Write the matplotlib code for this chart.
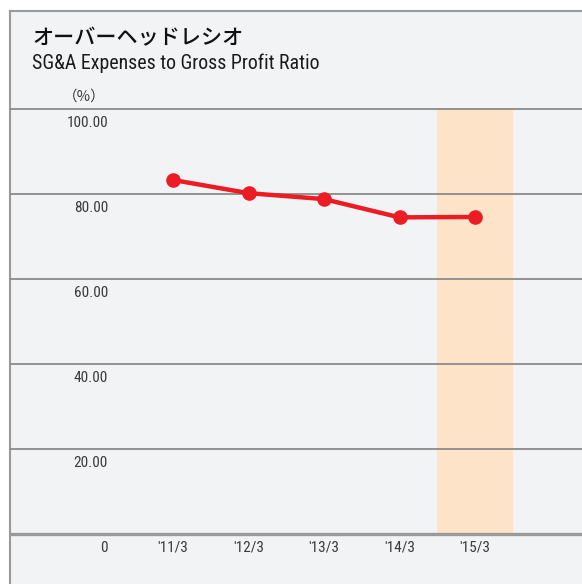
import matplotlib
matplotlib.use("Agg")
import matplotlib.pyplot as plt
from matplotlib.patches import Rectangle
from matplotlib.lines import Line2D

categories = ["'11/3", "'12/3", "'13/3", "'14/3", "'15/3"]
values = [83.3, 80.2, 78.8, 74.5, 74.6]
yticks = [0, 20, 40, 60, 80, 100]
ytick_labels = ["0", "20.00", "40.00", "60.00", "80.00", "100.00"]
highlight_index = 4

W, H = 582, 584
fig = plt.figure(figsize=(W / 100, H / 100), dpi=100)
fig.patch.set_facecolor("white")

bg = "#f2f3f5"
fig.patches.append(Rectangle((10.5 / W, 0), 1, 1 - 10.5 / H, transform=fig.transFigure,
                             facecolor=bg, edgecolor="none", zorder=-10))
fig.lines.append(Line2D([10.5 / W, 10.5 / W], [0, 1 - 10.5 / H], transform=fig.transFigure,
                        color="#9a9a9a", lw=1.5, zorder=-5))
fig.lines.append(Line2D([10.5 / W, 1], [1 - 10.5 / H, 1 - 10.5 / H], transform=fig.transFigure,
                        color="#9a9a9a", lw=1.5, zorder=-5))

left, right = 11, 582
top, bottom = 109, 534
ax = fig.add_axes([left / W, 1 - bottom / H, (right - left) / W, (bottom - top) / H])
ax.set_facecolor("none")
sp = 75.5
x0px = 173
xs = list(range(len(categories)))
ax.set_xlim((left - x0px) / sp, (right - x0px) / sp)
ax.set_ylim(0, 100)
for s in ax.spines.values():
    s.set_visible(False)
ax.set_xticks([])
ax.set_yticks([])

ax.axvspan(highlight_index - 0.5, highlight_index + 0.5, color="#fde4c9", zorder=1, lw=0)

for y in yticks:
    if y == 0:
        ax.axhline(y, color="#9a9a9a", lw=2.4, zorder=2, clip_on=False)
    else:
        ax.axhline(y, color="#8a8a8a", lw=1.3, zorder=2, clip_on=False)

ax.plot(xs, values, color="#ec1c24", lw=3.2, marker="o", markersize=9.5, zorder=4,
        solid_capstyle="round", clip_on=False)

narrow = ["Roboto Condensed", "DejaVu Sans"]
tc = "#3a3a3a"
off = 14 / (bottom - top) * 100
for y, lab in zip(yticks, ytick_labels):
    ax.text((108 - x0px) / sp, y - off, lab, ha="right", va="center", fontsize=11,
            family=narrow, color=tc, clip_on=False)
for x, lab in zip(xs, categories):
    ax.text(x, -off, lab, ha="center", va="center", fontsize=11, family=narrow,
            color=tc, clip_on=False)

fig.text(32 / W, 1 - 38 / H, "オーバーヘッドレシオ", fontsize=15.2, family=["Noto Sans CJK JP", "DejaVu Sans"],
         weight="medium", color="#111111", va="center", ha="left")
fig.text(32 / W, 1 - 63 / H, "SG&A Expenses to Gross Profit Ratio", fontsize=14.3, family=narrow,
         color="#1a1a1a", va="center", ha="left")
fig.text(84 / W, 1 - 97 / H, "（%）", fontsize=10.5, family=["Noto Sans CJK JP", "DejaVu Sans"],
         color=tc, va="center", ha="center")

fig.savefig("out.png", dpi=100, facecolor=fig.get_facecolor())
